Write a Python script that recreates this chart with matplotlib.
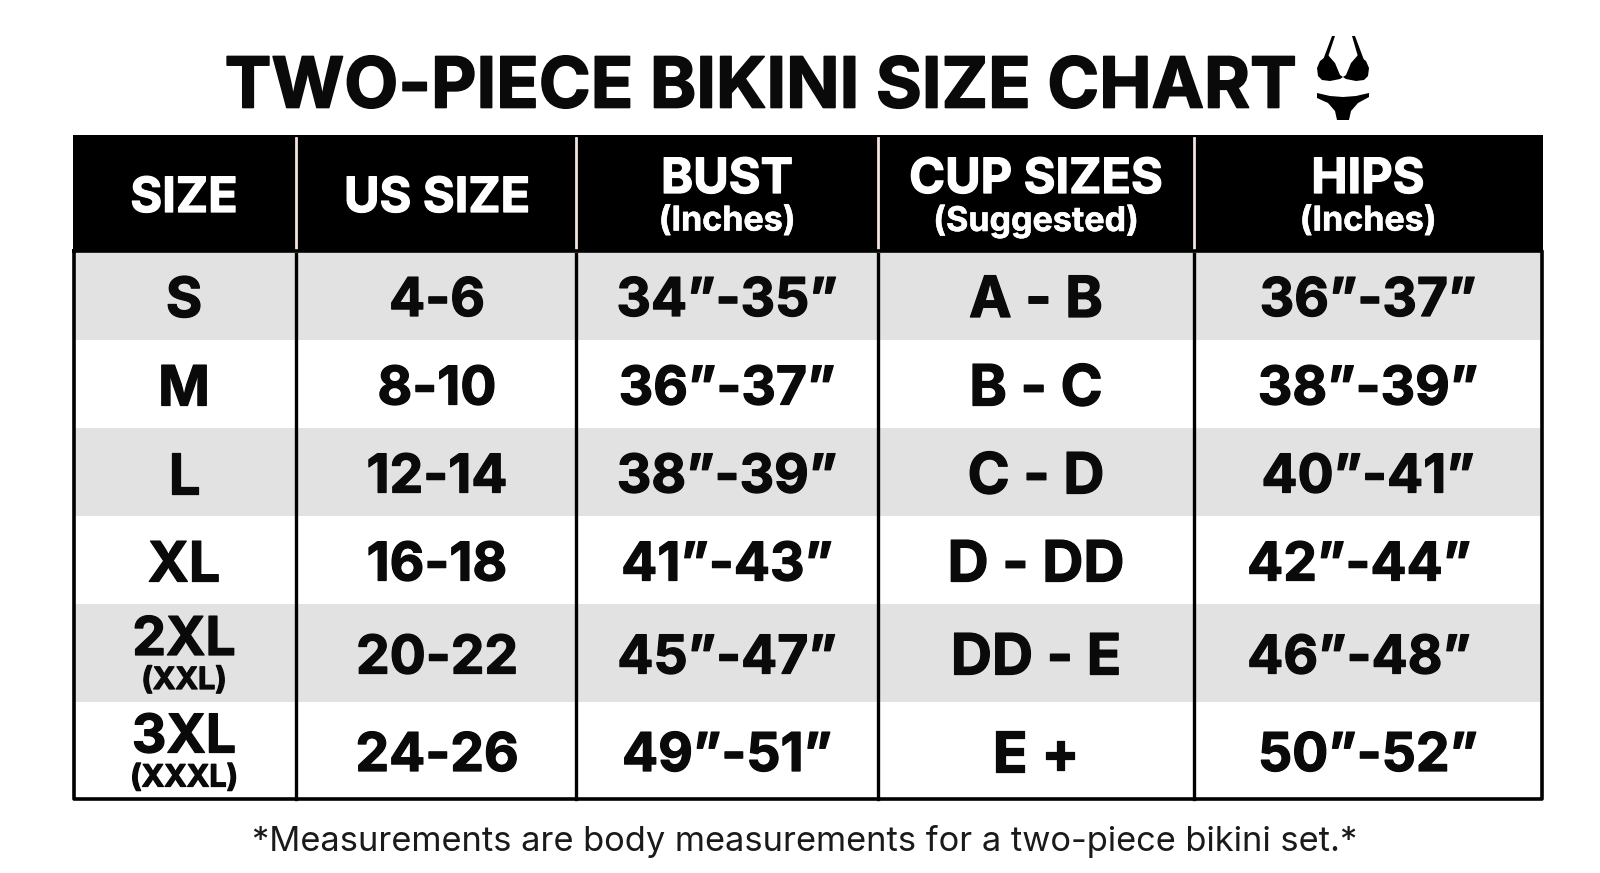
#!/usr/bin/env python3
"""Two-piece bikini size chart, drawn as a table in pixel coordinates."""

import matplotlib
matplotlib.use('Agg')
import matplotlib.pyplot as plt
import matplotlib.patheffects as pe
from matplotlib.patches import Rectangle, Polygon

plt.rcParams['font.family'] = ['Inter', 'DejaVu Sans']

W, H = 1600, 873

TITLE = 'TWO-PIECE BIKINI SIZE CHART'
NOTE = '*Measurements are body measurements for a two-piece bikini set.*'

headers = ['SIZE', 'US SIZE', 'BUST', 'CUP SIZES', 'HIPS']
header_subs = [None, None, '(Inches)', '(Suggested)', '(Inches)']

sizes = ['S', 'M', 'L', 'XL', '2XL', '3XL']
size_subs = [None, None, None, None, '(XXL)', '(XXXL)']
us_sizes = ['4-6', '8-10', '12-14', '16-18', '20-22', '24-26']
bust = ['34”-35”', '36”-37”', '38”-39”', '41”-43”', '45”-47”', '49”-51”']
cups = ['A - B', 'B - C', 'C - D', 'D - DD', 'DD - E', 'E +']
hips = ['36”-37”', '38”-39”', '40”-41”', '42”-44”', '46”-48”', '50”-52”']

col_x = [74, 296, 576, 878, 1194, 1542]
row_y = [251, 340, 428, 516, 604, 702, 799]
HEAD_TOP = 135

C_BAND = '#E2E2E2'
C_INK = '#0A0A0A'

fig = plt.figure(figsize=(W / 100, H / 100), dpi=100)
ax = fig.add_axes([0, 0, 1, 1])
ax.set_xlim(0, W)
ax.set_ylim(H, 0)
ax.axis('off')


def cell_text(x, y, text, size, col=C_INK, weight='bold', stroke=0.9):
    t = ax.text(x, y, text, ha='center', va='center_baseline', fontsize=size,
                fontweight=weight, color=col)
    if stroke:
        # Inter Bold is lighter than the lettering in the picture
        t.set_path_effects([pe.withStroke(linewidth=stroke, foreground=col)])


# ── title + icon ──────────────────────────────────────────────────────────────
cell_text(761, 82, TITLE, 50.5, stroke=1.2)

top_l = [(1323, 60), (1332, 36), (1335, 36), (1327, 60)]
top_r = [(1359, 60), (1352, 36), (1355, 36), (1364, 60)]
cup_l = [(1328, 55), (1335, 63), (1340, 75), (1343, 77), (1340, 79), (1330, 81),
         (1322, 80), (1318, 76), (1317, 68), (1320, 61)]
cup_r = [(1358, 55), (1351, 63), (1346, 75), (1343, 77), (1346, 79), (1356, 81),
         (1364, 80), (1368, 76), (1369, 68), (1366, 61)]
briefs = [(1317, 93), (1330, 96), (1343, 97), (1356, 96), (1369, 93), (1369, 97),
          (1358, 103), (1351, 111), (1349, 120), (1337, 120), (1335, 111),
          (1328, 103), (1317, 98)]
for pts in [top_l, top_r, cup_l, cup_r, briefs]:
    ax.add_patch(Polygon(pts, closed=True, facecolor='black', edgecolor='none'))

# ── table bands ───────────────────────────────────────────────────────────────
ax.add_patch(Rectangle((col_x[0] - 1, HEAD_TOP), col_x[-1] - col_x[0] + 2,
                       row_y[0] - HEAD_TOP, facecolor='black', edgecolor='none'))
for i in range(0, len(sizes), 2):
    ax.add_patch(Rectangle((col_x[0], row_y[i]), col_x[-1] - col_x[0],
                           row_y[i + 1] - row_y[i], facecolor=C_BAND,
                           edgecolor='none'))

# ── grid ──────────────────────────────────────────────────────────────────────
for x in col_x[1:-1]:
    ax.plot([x, x], [row_y[0], row_y[-1]], color='black', linewidth=2.4, zorder=3)
    ax.plot([x, x], [HEAD_TOP + 3, row_y[0]], color='#F3E4DF', linewidth=2.0, zorder=3)
ax.plot([col_x[0], col_x[-1], col_x[-1], col_x[0], col_x[0]],
        [row_y[0], row_y[0], row_y[-1], row_y[-1], row_y[0]],
        color='black', linewidth=2.6, zorder=3)

# ── header text ───────────────────────────────────────────────────────────────
col_c = [184, 437, 727, 1036, 1368]

for x, head, sub in zip(col_c, headers, header_subs):
    if sub:
        cell_text(x, 175, head, 35, col='white')
        cell_text(x, 218, sub, 24.5, col='white', stroke=0.4)
    else:
        cell_text(x, 194, head, 35, col='white')

# ── body text ─────────────────────────────────────────────────────────────────
BODY = 38.5
for i in range(len(sizes)):
    yc = (row_y[i] + row_y[i + 1]) / 2
    if size_subs[i]:
        cell_text(col_c[0], yc - 18, sizes[i], 38.5)
        cell_text(col_c[0], yc + 25, size_subs[i], 22)
    else:
        cell_text(col_c[0], yc + 1, sizes[i], 40)
    cell_text(col_c[1], yc + 0.5, us_sizes[i], BODY)
    cell_text(col_c[2], yc + 0.5, bust[i], BODY)
    cell_text(col_c[3], yc + 0.5, cups[i], 41)
    # the 42-44 and 46-48 cells sit a little left of the others
    hx = col_c[4] - 9 if i in (3, 4) else col_c[4]
    cell_text(hx, yc + 0.5, hips[i], BODY)

# ── footnote ──────────────────────────────────────────────────────────────────
cell_text(805, 838, NOTE, 24.8, col='#1A1A1A', weight='normal', stroke=0)

plt.savefig('out.png', dpi=100, facecolor='white')
